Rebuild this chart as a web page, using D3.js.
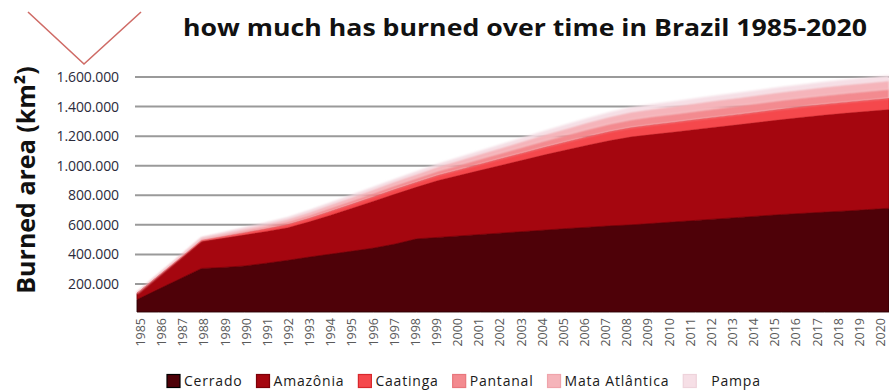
<!DOCTYPE html>
<html>
<head>
<meta charset="utf-8">
<script src="https://cdn.jsdelivr.net/npm/d3@7"></script>
<style>
  html, body { margin: 0; padding: 0; background: #fff; }
  svg { display: block; }
</style>
</head>
<body>
<svg id="chart" width="889" height="390"></svg>
<script>
// ---------- data (thousand km², cumulative burned area per biome) ----------
const years = [1985,1986,1987,1988,1989,1990,1991,1992,1993,1994,1995,1996,1997,1998,1999,2000,2001,2002,
               2003,2004,2005,2006,2007,2008,2009,2010,2011,2012,2013,2014,2015,2016,2017,2018,2019,2020];
const biomes = ["Cerrado","Amazônia","Caatinga","Pantanal","Mata Atlântica","Pampa"];
const cerrado  = [95,165,235,305,312,322,340,360,382,402,422,443,470,505,515,525,535,545,
                  555,565,575,584,593,600,610,620,630,640,650,660,670,678,686,694,703,712];
const amazonia = [41,88,135,183,198,210,215,220,238,263,290,317,338,350,385,410,435,460,
                  485,510,533,556,577,595,602,608,615,622,628,635,642,650,657,662,665,668];
const caatinga = [1,3,5,8,11,15,18,22,24,27,28,30,32,33,35,38,42,45,
                  48,51,54,58,61,63,65,66,67,68,69,70,71,72,73,74,75,76];
const pantanal = [1,3,5,7,10,13,16,19,21,23,25,26,28,29,31,34,36,39,
                  42,45,48,50,53,55,57,57,58,59,60,60,61,61,61,62,62,62];
const mataAtlantica = [1,3,4,6,9,13,15,18,20,22,23,24,26,27,29,31,34,36,
                  39,42,44,47,49,52,52,53,54,55,55,56,56,56,57,57,57,58];
const pampa    = [1,1,3,4,5,7,9,9,11,11,13,14,13,15,15,17,18,20,
                  21,22,24,25,27,28,28,29,29,29,29,29,30,30,31,31,32,32];
const yTicks = [200000,400000,600000,800000,1000000,1200000,1400000,1600000];
const colors = ["#4e0108","#a5060f","#f5484c","#f38a8f","#f5b4ba","#f6dfe6"];
const strokes = ["#2a0003","#7d0008","#d8282d","#e8767c","#efa4ab","#eed3db"];
const titleText = "how much has burned over time in Brazil 1985-2020";
const yTitle = "Burned area (km²)";

// ---------- build table ----------
const series = [cerrado, amazonia, caatinga, pantanal, mataAtlantica, pampa];
const table = years.map((yr, i) => {
  const row = { year: yr };
  biomes.forEach((b, k) => { row[b] = series[k][i] * 1000; });
  return row;
});
const stacked = d3.stack().keys(biomes)(table);

// ---------- layout ----------
const svg = d3.select("#chart");
const x = d3.scaleLinear().domain([1985, 2020]).range([137, 889]);
const xLab = d3.scaleLinear().domain([1985, 2020]).range([140, 880]);
const y = d3.scaleLinear().domain([0, 1600000]).range([313.5, 77]);
const fmt = d3.formatLocale({ decimal: ",", thousands: ".", grouping: [3], currency: ["", ""] }).format(",");

// decorative V
svg.append("path")
  .attr("d", d3.line()([[28, 12], [84, 64], [141, 12]]))
  .attr("fill", "none").attr("stroke", "#cf6b66").attr("stroke-width", 1.6);

// title
svg.append("text")
  .attr("x", 525).attr("y", 36)
  .attr("text-anchor", "middle")
  .attr("font-family", "Open Sans, sans-serif")
  .attr("font-weight", 700)
  .attr("font-size", 24)
  .attr("fill", "#111")
  .attr("textLength", 684).attr("lengthAdjust", "spacingAndGlyphs")
  .text(titleText);

// y title
svg.append("text")
  .attr("transform", "translate(35,180) rotate(-90)")
  .attr("text-anchor", "middle")
  .attr("font-family", "Open Sans, sans-serif")
  .attr("font-weight", 700)
  .attr("font-size", 25)
  .attr("fill", "#111")
  .text(yTitle);

// gridlines
svg.append("g")
  .selectAll("line").data(yTicks).join("line")
  .attr("x1", 135).attr("x2", 889)
  .attr("y1", d => y(d)).attr("y2", d => y(d))
  .attr("stroke", "#9a9a9a").attr("stroke-width", 2);

// y tick labels via axis
const yAxis = svg.append("g")
  .attr("transform", "translate(119,0)")
  .call(d3.axisLeft(y).tickValues(yTicks).tickFormat(fmt).tickSize(0).tickPadding(0));
yAxis.select(".domain").remove();
yAxis.selectAll("text")
  .attr("font-family", "Open Sans, sans-serif")
  .attr("font-size", 14)
  .attr("letter-spacing", "-0.1px")
  .attr("fill", "#2b2b3b");

// blur filter for the top glow
const defs = svg.append("defs");
defs.append("filter").attr("id", "soft").attr("x", "-5%").attr("y", "-5%").attr("width", "110%").attr("height", "110%")
  .append("feGaussianBlur").attr("stdDeviation", 0.9);

// areas
const area = d3.area()
  .x(d => x(d.data.year))
  .y0(d => Math.min(y(d[0]), 312))
  .y1(d => y(d[1]));
svg.append("g")
  .selectAll("path").data(stacked).join("path")
  .attr("d", area)
  .attr("fill", (d, i) => colors[i])
  .attr("stroke", (d, i) => strokes[i])
  .attr("stroke-width", (d, i) => i < 2 ? 0.9 : 0.6)
  .attr("filter", (d, i) => i >= 3 ? "url(#soft)" : null);

// x axis labels
const xAxis = svg.append("g")
  .attr("transform", "translate(0,318)")
  .call(d3.axisBottom(xLab).tickValues(years).tickFormat(d3.format("d")).tickSize(0).tickPadding(0));
xAxis.select(".domain").remove();
xAxis.selectAll("text")
  .attr("transform", "rotate(-90)")
  .attr("x", 0).attr("y", 0)
  .attr("dy", "0.36em")
  .attr("text-anchor", "end")
  .attr("font-family", "Open Sans, sans-serif")
  .attr("font-size", 12.5)
  .attr("fill", "#5a5a5a");

// legend
const legend = svg.append("g").attr("transform", "translate(0,381)");
let lx = 167;
biomes.forEach((b, i) => {
  legend.append("rect")
    .attr("x", lx).attr("y", -6.5).attr("width", 13).attr("height", 13)
    .attr("fill", colors[i])
    .attr("stroke", i === 0 ? "#000" : strokes[i]).attr("stroke-width", 1.2);
  const tx = lx + (i === 5 ? 28 : 17);
  const t = legend.append("text")
    .attr("x", tx).attr("y", 0).attr("dy", "0.36em")
    .attr("font-family", "Open Sans, sans-serif")
    .attr("font-size", 14)
    .attr("letter-spacing", "0.8px")
    .attr("fill", "#1a1a1a")
    .text(b);
  lx = tx + t.node().getComputedTextLength() + 14;
});
</script>
</body>
</html>
